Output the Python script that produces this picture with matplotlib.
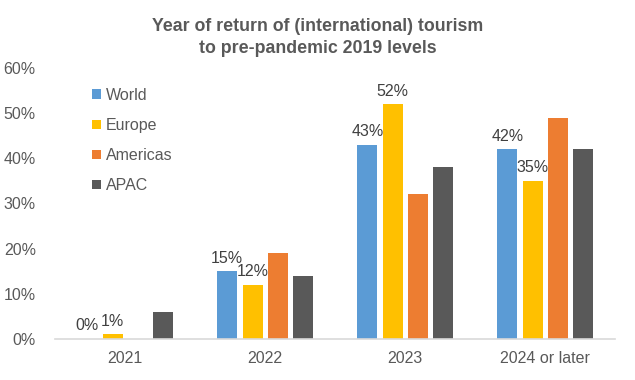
import matplotlib
matplotlib.use("Agg")
import matplotlib.pyplot as plt
import numpy as np

plt.rcParams['font.family'] = ['Liberation Sans', 'DejaVu Sans']

categories = ["2021", "2022", "2023", "2024 or later"]
series_names = ["World", "Europe", "Americas", "APAC"]
world = [0, 15, 43, 42]
europe = [1, 12, 52, 35]
americas = [0, 19, 32, 49]
apac = [6, 14, 38, 42]
colors = ["#5B9BD5", "#FFC000", "#ED7D31", "#595959"]
labelled = [True, True, False, False]
title = "Year of return of (international) tourism\nto pre-pandemic 2019 levels"

values = [world, europe, americas, apac]
grey = "#595959"

fig = plt.figure(figsize=(6.35, 3.8), dpi=100)
ax = fig.add_axes([0.087, 0.108, 0.882, 0.713])

x = np.arange(len(categories))
step = 0.181
width = 0.143
for i, (name, vals, c) in enumerate(zip(series_names, values, colors)):
    pos = x + (i - 1.5) * step
    bars = ax.bar(pos, vals, width=width, color=c, label=name, zorder=2)
    if labelled[i]:
        for b, v in zip(bars, vals):
            ax.annotate(f"{v}%", (b.get_x() + b.get_width() / 2, v),
                        xytext=(0, 4), textcoords="offset points",
                        ha="center", va="bottom", fontsize=11.5, color="#404040")

ax.set_xlim(-0.5, len(categories) - 0.5)
ax.set_ylim(0, 60)
ax.set_yticks(range(0, 61, 10))
ax.set_yticklabels([f"{t}%" for t in range(0, 61, 10)])
ax.set_xticks(x)
ax.set_xticklabels(categories)
ax.tick_params(axis='both', length=0, labelsize=11.5, colors=grey)
ax.tick_params(axis='y', pad=14)
ax.tick_params(axis='x', pad=9)
for s in ["top", "right", "left"]:
    ax.spines[s].set_visible(False)
ax.spines["bottom"].set_color("#D9D9D9")
ax.spines["bottom"].set_linewidth(1.2)

leg = ax.legend(loc="upper left", bbox_to_anchor=(0.04, 0.98), frameon=False,
                fontsize=11.5, handlelength=0.55, handleheight=0.55,
                handletextpad=0.3, labelspacing=0.95)
for t in leg.get_texts():
    t.set_color(grey)

fig.suptitle(title, x=0.5, y=0.952, fontsize=12.8, fontweight="bold", color=grey,
             linespacing=1.35)

fig.savefig("out.png", dpi=100)
